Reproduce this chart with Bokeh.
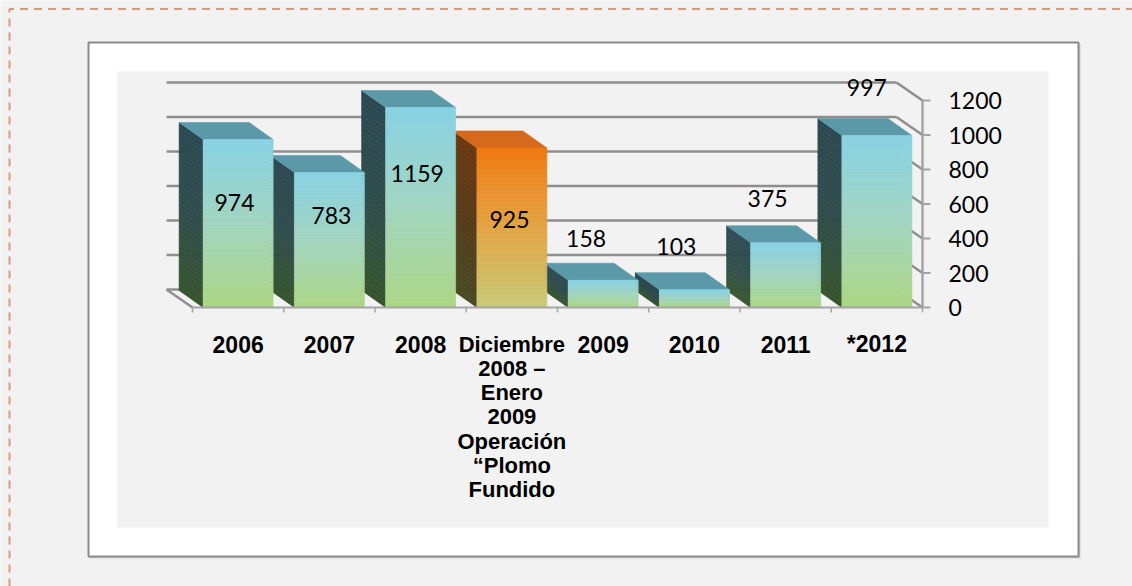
import numpy as np
from bokeh.plotting import figure
from bokeh.models import Range1d
from bokeh.core.properties import value
from bokeh.embed import file_html
from bokeh.resources import INLINE

# ---------------- data ----------------
categories = ["2006", "2007", "2008",
              "Diciembre\n2008 –\nEnero\n2009\nOperación\n“Plomo\nFundido",
              "2009", "2010", "2011", "*2012"]
values = [974, 783, 1159, 925, 158, 103, 375, 997]
highlight = [False, False, False, True, False, False, False, False]
y_ticks = [0, 200, 400, 600, 800, 1000, 1200]
y_tick_labels = ["0", "200", "400", "600", "800", "1000", "1200"]

# ---------------- layout helpers ----------------
W, H = 1132, 586
X0PX = 192.0          # pixel x of category 0 left edge
CAT_PX = 91.25        # pixels per category
Y0PX = 307.0          # pixel y of value 0
SCALE = 207.0 / 1200  # pixels per value unit


def X(px):
    return (px - X0PX) / CAT_PX


def Y(py):
    return (Y0PX - py) / SCALE


p = figure(width=W, height=H, output_backend="svg", toolbar_location=None,
           x_range=Range1d(X(0), X(W)), y_range=Range1d(Y(H), Y(0)),
           x_axis_location=None, y_axis_location=None, min_border=0,
           background_fill_color="#f2f2f2", border_fill_color="#f2f2f2")
p.outline_line_color = None
p.grid.visible = False

# page dashed border
p.line([X(9), X(9), X(1145)], [Y(600), Y(8.5), Y(8.5)],
       line_color="#d99a7c", line_width=2, line_dash="8 6")
# chart box with shadow
p.quad(left=[X(89.5)], right=[X(1080)], top=[Y(43.5)], bottom=[Y(558)],
       fill_color="#d0d0d0", line_color=None)
p.quad(left=[X(88)], right=[X(1078)], top=[Y(42)], bottom=[Y(556)],
       fill_color="white", line_color="#8a8a8a", line_width=2)
# plot area
p.quad(left=[X(117)], right=[X(1048)], top=[Y(71)], bottom=[Y(527)],
       fill_color="#f2f2f2", line_color=None)

n = len(values)
WDX = -26 / CAT_PX
WDY = 18 / SCALE
# back wall gridlines and side-wall diagonals
gx0, gy0, gx1, gy1 = [], [], [], []
for v in y_ticks:
    gx0 += [WDX, n + WDX]
    gy0 += [v + WDY, v + WDY]
    gx1 += [n + WDX, n]
    gy1 += [v + WDY, v]
gx0.append(WDX); gy0.append(WDY); gx1.append(0); gy1.append(0)
p.segment(gx0, gy0, gx1, gy1, line_color="#8e8e8e", line_width=2.5)

# ---------------- bars ----------------
HW = 35 / CAT_PX
BDX = -24 / CAT_PX
BDY = 17 / SCALE
NSTRIP = 40


def hex2rgb(h):
    h = h.lstrip("#")
    return np.array([int(h[i:i + 2], 16) for i in (0, 2, 4)], dtype=float)


def grad(stops, t):
    # stops: list of hex from bottom (t=0) to top (t=1)
    cols = [hex2rgb(s) for s in stops]
    seg = (len(cols) - 1) * t
    k = min(int(seg), len(cols) - 2)
    f = seg - k
    c = cols[k] * (1 - f) + cols[k + 1] * f
    return "#%02x%02x%02x" % tuple(int(round(x)) for x in c)


BLUE = dict(front=["#acd684", "#a2d5c0", "#88d2e4"],
            side=["#36552c", "#2f4c4c", "#2b4850"],
            top="#5b98a8")
ORANGE = dict(front=["#c8cb78", "#e3a444", "#f07a12"],
              side=["#474a22", "#553a18", "#6a3810"],
              top="#d66a1c")

f_l, f_r, f_t, f_b, f_c = [], [], [], [], []
s_xs, s_ys, s_c = [], [], []
t_xs, t_ys, t_c = [], [], []
for i in reversed(range(n)):
    pal = ORANGE if highlight[i] else BLUE
    v = values[i]
    c = i + 0.5
    x0, x1 = c - HW, c + HW
    edges = np.linspace(0, v, NSTRIP + 1)
    for k in range(NSTRIP):
        t = (k + 0.5) / NSTRIP
        a, b = edges[k], edges[k + 1]
        f_l.append(x0); f_r.append(x1); f_b.append(a); f_t.append(b)
        f_c.append(grad(pal["front"], t))
        s_xs.append([x0, x0, x0 + BDX, x0 + BDX])
        s_ys.append([a, b, b + BDY, a + BDY])
        s_c.append(grad(pal["side"], t))
    t_xs.append([x0, x1, x1 + BDX, x0 + BDX])
    t_ys.append([v, v, v + BDY, v + BDY])
    t_c.append(pal["top"])

p.patches(s_xs, s_ys, fill_color=s_c, line_color=s_c, line_width=0.6)
p.patches(t_xs, t_ys, fill_color=t_c, line_color=t_c, line_width=0.6)
p.quad(left=f_l, right=f_r, top=f_t, bottom=f_b, fill_color=f_c,
       line_color=f_c, line_width=0.6)

# front axes
p.segment([n], [0], [n], [y_ticks[-1]], line_color="#a4a4a4", line_width=2.5)
p.segment([n] * len(y_ticks), y_ticks, [n + 8 / CAT_PX] * len(y_ticks), y_ticks,
          line_color="#a4a4a4", line_width=2)
p.segment([0], [0], [n], [0], line_color="#a4a4a4", line_width=2)
p.segment(list(range(n + 1)), [0] * (n + 1), list(range(n + 1)),
          [-5 / SCALE] * (n + 1), line_color="#a4a4a4", line_width=1.5)

# y tick labels
p.text(x=[X(948)] * len(y_ticks), y=y_ticks, text=y_tick_labels,
       text_font=value("Lato"), text_font_size="23px", text_color="#000000",
       text_align="left", text_baseline="middle")

# value labels (anchors as placed in the original 3D chart)
label_y = [611, 531, 779, 508, 398, 352, 629, 1275]
label_dx_px = [-3.6, 2, -3.4, -2.4, -17, -18, -18, -10]
p.text(x=[i + 0.5 + label_dx_px[i] / CAT_PX for i in range(n)], y=label_y,
       text=[str(v) for v in values],
       text_font=value("Lato"), text_font_size="23px", text_color="#000000",
       text_align="center", text_baseline="middle")

# category labels, one text per line so line spacing matches
cx, cy, ct, cs = [], [], [], []
for i, lab in enumerate(categories):
    lines = lab.split("\n")
    for k, line in enumerate(lines):
        cx.append(i + 0.5)
        cy.append(Y(343.5 + 24.3 * k))
        ct.append(line)
        cs.append("23px" if len(lines) == 1 else "22px")
p.text(x=cx, y=cy, text=ct, text_font_size=cs,
       text_font=value("Liberation Sans"), text_font_style="bold",
       text_color="#000000", text_align="center", text_baseline="middle")

open("out.html", "w").write(file_html(p, INLINE))
